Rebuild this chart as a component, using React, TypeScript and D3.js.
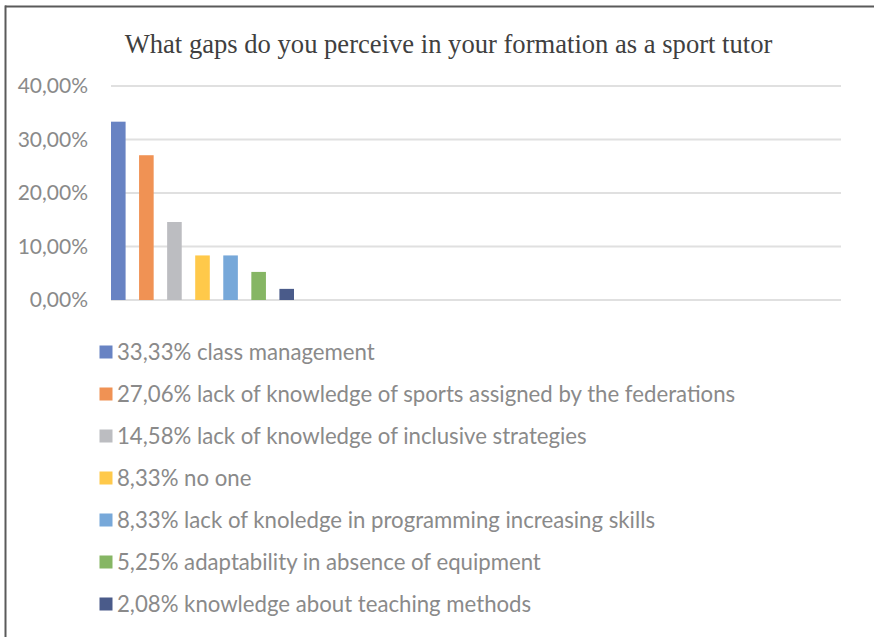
import React from "react";
import * as d3 from "d3";

const categories = [
  "33,33% class management",
  "27,06% lack of knowledge of sports assigned by the federations",
  "14,58% lack of knowledge of inclusive strategies",
  "8,33% no one",
  "8,33% lack of knoledge in programming increasing skills",
  "5,25% adaptability in absence of equipment",
  "2,08% knowledge about teaching methods",
];
const values = [33.33, 27.06, 14.58, 8.33, 8.33, 5.25, 2.08];
const colors = ["#6883C3", "#F09254", "#BCBDC1", "#FFC94A", "#77A8D9", "#86B664", "#4A5B8A"];
const yTicks = [0, 10, 20, 30, 40];
const title = "What gaps do you perceive in your formation as a sport tutor";

const W = 874;
const H = 637;
const plotLeft = 111;
const plotRight = 841;
const y0 = 300;
const y40 = 86;

export default function App() {
  const y = d3.scaleLinear().domain([0, 40]).range([y0, y40]);
  const x = d3
    .scaleBand<string>()
    .domain(categories)
    .range([plotLeft, 294])
    .paddingInner(0.48)
    .paddingOuter(0)
    .align(0);
  const fmt = (v: number) => v.toFixed(2).replace(".", ",") + "%";
  const textColor = "#8A8A8A";
  const font = "Lato, 'Open Sans', sans-serif";
  return (
    <svg
      width={W}
      height={H}
      style={{ position: "absolute", left: 0, top: 0, background: "#fff" }}
    >
      <rect x={0} y={0} width={W} height={H} fill="#fff" />
      <line x1={5} y1={6.5} x2={W} y2={6.5} stroke="#5A5A5A" strokeWidth={2} />
      <line x1={5.5} y1={5.5} x2={5.5} y2={H} stroke="#5A5A5A" strokeWidth={2} />
      <text
        x={448.5}
        y={53}
        textAnchor="middle"
        fontFamily="'Liberation Serif', 'Times New Roman', serif"
        fontSize={26.6}
        fill="#404040"
      >
        {title}
      </text>
      {yTicks.map((t) => (
        <g key={t}>
          <line
            x1={plotLeft}
            x2={plotRight}
            y1={y(t)}
            y2={y(t)}
            stroke="#E0E0E0"
            strokeWidth={2}
          />
          <text
            x={88}
            y={y(t)}
            dy="0.35em"
            textAnchor="end"
            fontFamily={font}
            fontSize={21}
            fill={textColor}
          >
            {fmt(t)}
          </text>
        </g>
      ))}
      {categories.map((c, i) => (
        <rect
          key={c}
          x={x(c)}
          y={y(values[i])}
          width={x.bandwidth()}
          height={y0 - y(values[i])}
          fill={colors[i]}
        />
      ))}
      {categories.map((c, i) => {
        const cy = 352 + i * 42;
        return (
          <g key={"l" + c}>
            <rect x={99.5} y={cy - 6.5} width={13} height={13} fill={colors[i]} />
            <text
              x={117}
              y={cy}
              dy="0.35em"
              fontFamily={font}
              fontSize={22.2}
              fill={textColor}
            >
              {c}
            </text>
          </g>
        );
      })}
    </svg>
  );
}
